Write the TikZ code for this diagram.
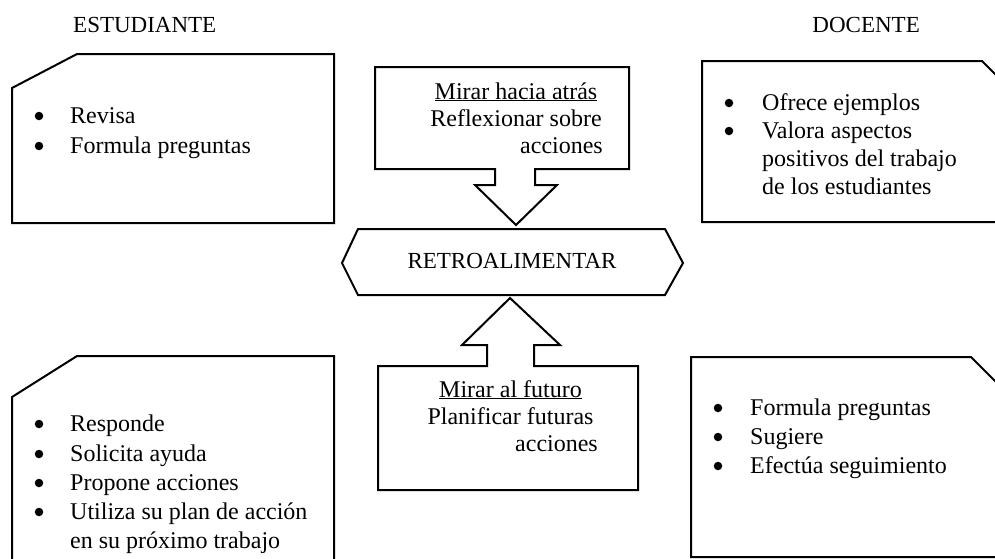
\documentclass[tikz,border=0pt]{standalone}
\usepackage{fontspec}
\setmainfont{Liberation Serif}
\begin{document}
\begin{tikzpicture}[x=1pt,y=-1pt,
  outline/.style={line width=2pt, line join=miter},
  txt/.style={inner sep=0pt, font=\fontsize{24}{29}\selectfont},
  capstxt/.style={inner sep=0pt, font=\fontsize{23}{28}\selectfont},
  bul/.style={circle, fill=black, inner sep=0pt, minimum size=8.5pt},
  item/.style={txt, anchor=base west}]
\useasboundingbox (0,0) rectangle (995,558);
\clip (0,0) rectangle (995,558);
% headers
\node[capstxt, anchor=base west] (hest) at (73,32) {ESTUDIANTE};
\node[capstxt, anchor=base east] (hdoc) at (920,32) {DOCENTE};
% top-left box
\draw[outline] (12,88) -- (77,54) -- (334,54) -- (334,223) -- (12,223) -- cycle;
\node[bul] (tlb1) at (39,116) {};
\node[item] (tl1) at (70,123) {Revisa};
\node[bul] (tlb2) at (39,146) {};
\node[item] (tl2) at (70,153) {Formula preguntas};
% top-right box
\draw[outline] (1010,89) -- (982,61) -- (702,61) -- (702,222) -- (1010,222);
\node[bul] (trb1) at (729,103) {};
\node[item] (tr1) at (762,110) {Ofrece ejemplos};
\node[bul] (trb2) at (729,131) {};
\node[item] (tr2) at (762,138) {Valora aspectos};
\node[item] (tr3) at (762,166) {positivos del trabajo};
\node[item] (tr4) at (762,194) {de los estudiantes};
% bottom-left box
\draw[outline] (12,570) -- (12,397) -- (77,356) -- (334,356) -- (334,570);
\node[bul] (blb1) at (39,424) {};
\node[item] (bl1) at (70,431) {Responde};
\node[bul] (blb2) at (39,454) {};
\node[item] (bl2) at (70,461) {Solicita ayuda};
\node[bul] (blb3) at (39,483) {};
\node[item] (bl3) at (70,490) {Propone acciones};
\node[bul] (blb4) at (39,512) {};
\node[item] (bl4) at (70,519) {Utiliza su plan de acción};
\node[item] (bl5) at (70,548) {en su próximo trabajo};
% bottom-right box
\draw[outline] (1010,396) -- (971,357) -- (691,357) -- (691,557) -- (1010,557);
\node[bul] (brb1) at (718,408) {};
\node[item] (br1) at (750,415) {Formula preguntas};
\node[bul] (brb2) at (718,437) {};
\node[item] (br2) at (750,444) {Sugiere};
\node[bul] (brb3) at (718,466) {};
\node[item] (br3) at (750,473) {Efectúa seguimiento};
% top arrow callout
\draw[outline] (375,67) -- (629,67) -- (629,169) -- (535,169) -- (535,185) -- (557,185)
  -- (516,225) -- (475,185) -- (495,185) -- (495,169) -- (375,169) -- cycle;
\node[txt, anchor=base] (up1) at (516,99) {\underline{Mirar hacia atrás}};
\node[txt, anchor=base] (up2) at (516,126) {Reflexionar sobre};
\node[txt, anchor=base east] (up3) at (603,153) {acciones};
% center hexagon
\draw[outline] (342,263) -- (358,229) -- (665,229) -- (683,263) -- (665,295) -- (358,295) -- cycle;
\node[capstxt, anchor=base] (retro) at (512,268) {RETROALIMENTAR};
% bottom arrow callout
\draw[outline] (510,298) -- (560,345) -- (534,345) -- (534,366) -- (638,366) -- (638,490)
  -- (378,490) -- (378,366) -- (487,366) -- (487,345) -- (462,345) -- cycle;
\node[txt, anchor=base] (dn1) at (510.5,397) {\underline{Mirar al futuro}};
\node[txt, anchor=base] (dn2) at (510.5,424) {Planificar futuras};
\node[txt, anchor=base east] (dn3) at (598,451) {acciones};
\end{tikzpicture}
\end{document}
